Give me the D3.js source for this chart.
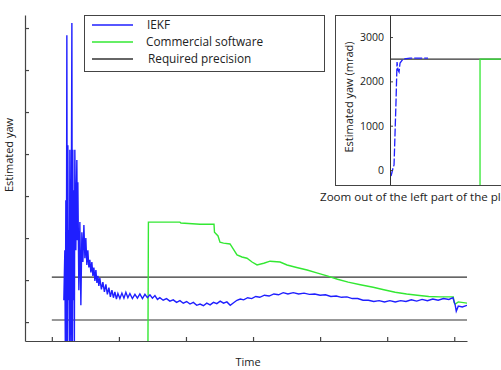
<!DOCTYPE html>
<html>
<head>
<meta charset="utf-8">
<script src="https://cdn.jsdelivr.net/npm/d3@7"></script>
<style>
  body { margin: 0; background: #fff; }
  text { font-family: "Open Sans", sans-serif; fill: #222; }
</style>
</head>
<body>
<div id="chart"></div>
<script>
// IEKF estimate (time, yaw in tick units)
var iekfTime = [0.179, 0.194, 0.201, 0.209, 0.216, 0.224, 0.231, 0.239, 0.246, 0.254, 0.261, 0.269, 0.276, 0.284, 0.299, 0.306, 0.313, 0.321, 0.328, 0.336, 0.343, 0.358, 0.373, 0.381, 0.388, 0.403, 0.418, 0.433, 0.448, 0.463, 0.478, 0.493, 0.507, 0.522, 0.537, 0.552, 0.567, 0.582, 0.597, 0.612, 0.627, 0.642, 0.657, 0.672, 0.687, 0.701, 0.716, 0.739, 0.761, 0.784, 0.806, 0.828, 0.851, 0.873, 0.896, 0.918, 0.940, 0.963, 0.985, 1.015, 1.045, 1.075, 1.104, 1.134, 1.164, 1.201, 1.239, 1.276, 1.313, 1.351, 1.388, 1.425, 1.463, 1.500, 1.537, 1.575,
    1.61, 1.66, 1.71, 1.76, 1.81, 1.86, 1.91, 1.96, 2.01, 2.06, 2.11, 2.16, 2.21, 2.26, 2.31, 2.36, 2.41, 2.46, 2.51, 2.56, 2.61, 2.66, 2.71, 2.76, 2.81, 2.86, 2.92, 2.98, 3.04, 3.10, 3.17, 3.24, 3.31, 3.38, 3.45, 3.52, 3.60, 3.68, 3.76, 3.84, 3.92, 4.00, 4.08, 4.16, 4.24, 4.32, 4.40, 4.48, 4.56, 4.64, 4.72, 4.80, 4.88, 4.96, 5.04, 5.12, 5.20, 5.28, 5.36, 5.44, 5.52, 5.60, 5.68, 5.76, 5.84, 5.92, 5.98, 6.015, 6.03, 6.06, 6.12, 6.19];
var iekfYaw = [0.52, 1.71, -0.6, 2.90, -0.6, 6.83, -0.6, 4.21, 0.52, 2.19, -0.6, 4.10, 1.00, -0.6, 7.12, -0.6, 4.10, 0.52, 3.14, -0.6, 4.10, 1.71, 3.86, 1.95, 3.33, 0.76, 2.38, 0.40, 2.14, 1.43, 2.31, 1.52, 2.00, 1.36, 1.71, 1.30, 1.48, 1.18, 1.43, 1.10, 1.30, 0.98, 1.24, 0.93, 1.10, 0.86, 1.05, 0.78, 0.95, 0.72, 0.90, 0.66, 0.82, 0.60, 0.76, 0.58, 0.72, 0.55, 0.68, 0.56, 0.69, 0.57, 0.71, 0.58, 0.68, 0.56, 0.66, 0.57, 0.67, 0.56, 0.66, 0.58, 0.65, 0.57, 0.63, 0.54,
    0.58, 0.52, 0.56, 0.50, 0.53, 0.47, 0.51, 0.45, 0.49, 0.43, 0.47, 0.40, 0.43, 0.39, 0.45, 0.41, 0.47, 0.44, 0.50, 0.45, 0.48, 0.40, 0.46, 0.52, 0.55, 0.53, 0.58, 0.56, 0.61, 0.59, 0.64, 0.62, 0.67, 0.65, 0.70, 0.67, 0.70, 0.67, 0.69, 0.66, 0.67, 0.64, 0.65, 0.61, 0.62, 0.59, 0.60, 0.56, 0.56, 0.52, 0.52, 0.49, 0.51, 0.48, 0.51, 0.48, 0.51, 0.49, 0.53, 0.50, 0.54, 0.51, 0.55, 0.52, 0.56, 0.54, 0.58, 0.40, 0.26, 0.38, 0.36, 0.40];

// commercial software
var comTime = [1.433, 1.440, 1.910, 1.925, 2.209, 2.418, 2.425, 2.478, 2.507, 2.560, 2.657, 2.761, 2.835, 2.910, 2.985, 3.060, 3.160, 3.254, 3.403, 3.507, 3.650, 3.806, 3.950, 4.104, 4.260, 4.418, 4.600, 4.791, 4.950, 5.119, 5.290, 5.448, 5.620, 5.791, 5.985, 6.000, 6.015, 6.060, 6.194];
var comYaw = [-0.6, 2.38, 2.38, 2.36, 2.33, 2.33, 2.14, 2.05, 1.90, 1.88, 1.86, 1.60, 1.55, 1.52, 1.43, 1.36, 1.40, 1.45, 1.43, 1.36, 1.30, 1.24, 1.17, 1.10, 1.02, 0.95, 0.89, 0.83, 0.77, 0.71, 0.67, 0.64, 0.61, 0.60, 0.60, 0.46, 0.43, 0.48, 0.45];

// required precision bounds
var precisionLevels = [1.07, 0.05];
var precisionSpan = [0, 6.194];

var xTicks = [0, 1, 2, 3, 4, 5, 6];
var yTicks = [0, 1, 2, 3, 4, 5, 6, 7];

// inset (zoom out, mrad)
var zoomTime = [0.158, 0.187, 0.201, 0.230, 0.244, 0.258, 0.273, 0.287, 0.330, 0.430, 0.689];
var zoomIekf = [-135, 45, 113, 1580, 2436, 2256, 2211, 2414, 2504, 2526, 2526];
var zoomComTime = [1.435, 1.435, 2.0];
var zoomComYaw = [-500, 2500, 2500];
var zoomPrecision = 2500;
var zoomTicks = [0, 1000, 2000, 3000];

var legendNames = ["IEKF", "Commercial software", "Required precision"];
var legendColors = ["#1f1fff", "#33e833", "#333"];

var width = 501, height = 370;

var svg = d3.select("#chart")
    .append("svg")
    .attr("width", width)
    .attr("height", height);

svg.append("rect").attr("width", width).attr("height", height).attr("fill", "#fff");

var x = d3.scaleLinear().domain([-0.4, 6.19]).range([25, 467]);
var y = d3.scaleLinear().domain([-0.45, 7.31]).range([341, 15]);

svg.append("defs").append("clipPath").attr("id", "mainClip")
    .append("rect").attr("x", 25).attr("y", 15).attr("width", 442).attr("height", 326);

var plot = svg.append("g").attr("clip-path", "url(#mainClip)");

var line = d3.line()
    .x(function (d) { return x(d[0]); })
    .y(function (d) { return y(d[1]); });

precisionLevels.forEach(function (lv) {
    plot.append("line")
        .attr("x1", x(precisionSpan[0])).attr("x2", x(precisionSpan[1]))
        .attr("y1", y(lv)).attr("y2", y(lv))
        .attr("stroke", "#333").attr("stroke-width", 1.2);
});

plot.append("path")
    .datum(d3.zip(comTime, comYaw))
    .attr("d", line)
    .attr("fill", "none")
    .attr("stroke", legendColors[1])
    .attr("stroke-width", 1.4);

plot.append("path")
    .datum(d3.zip(iekfTime, iekfYaw))
    .attr("d", line)
    .attr("fill", "none")
    .attr("stroke", legendColors[0])
    .attr("stroke-width", 1.4);

// axes, ticks inside, no labels
svg.append("g")
    .attr("transform", "translate(0,341)")
    .call(d3.axisBottom(x).tickValues(xTicks).tickSizeInner(-4).tickSizeOuter(0).tickFormat(""))
    .call(function (g) { g.selectAll("line,path").attr("stroke", "#444").attr("stroke-width", 1.2); });

svg.append("g")
    .attr("transform", "translate(25,0)")
    .call(d3.axisLeft(y).tickValues(yTicks).tickSizeInner(-4).tickSizeOuter(0).tickFormat(""))
    .call(function (g) { g.selectAll("line,path").attr("stroke", "#444").attr("stroke-width", 1.2); });

svg.append("text")
    .attr("transform", "translate(13,155) rotate(-90)")
    .attr("text-anchor", "middle")
    .style("font-size", "11px")
    .text("Estimated yaw");

svg.append("text")
    .attr("x", 248).attr("y", 366)
    .attr("text-anchor", "middle")
    .style("font-size", "11px")
    .text("Time");

// legend
var legend = svg.append("g");
legend.append("rect")
    .attr("x", 84.5).attr("y", 15.5).attr("width", 240).attr("height", 56)
    .attr("fill", "#fff").attr("stroke", "#444").attr("stroke-width", 1);
var textX = [147, 146, 148];
legendNames.forEach(function (name, i) {
    var ly = 25 + i * 17;
    legend.append("line")
        .attr("x1", 92).attr("x2", 133).attr("y1", ly).attr("y2", ly)
        .attr("stroke", legendColors[i]).attr("stroke-width", 1.3);
    legend.append("text")
        .attr("x", textX[i]).attr("y", ly + 4)
        .style("font-size", "11.8px")
        .text(name);
});

// inset
var inset = svg.append("g");
inset.append("rect")
    .attr("x", 335.5).attr("y", 15.5).attr("width", 200).attr("height", 170)
    .attr("fill", "#fff").attr("stroke", "#444");

var zx = d3.scaleLinear().domain([0.143, 1.736]).range([390, 501]);
var zy = d3.scaleLinear().domain([-338, 3497]).range([185, 15]);

svg.select("defs").append("clipPath").attr("id", "insetClip")
    .append("rect").attr("x", 390).attr("y", 15).attr("width", 150).attr("height", 170);

var zplot = inset.append("g").attr("clip-path", "url(#insetClip)");
var zline = d3.line()
    .x(function (d) { return zx(d[0]); })
    .y(function (d) { return zy(d[1]); });

zplot.append("line")
    .attr("x1", 390).attr("x2", 510)
    .attr("y1", zy(zoomPrecision)).attr("y2", zy(zoomPrecision))
    .attr("stroke", "#333").attr("stroke-width", 1.2);

zplot.append("path")
    .datum(d3.zip(zoomComTime, zoomComYaw))
    .attr("d", zline)
    .attr("fill", "none")
    .attr("stroke", legendColors[1])
    .attr("stroke-width", 1.3);

zplot.append("path")
    .datum(d3.zip(zoomTime, zoomIekf))
    .attr("d", zline)
    .attr("fill", "none")
    .attr("stroke", legendColors[0])
    .attr("stroke-width", 1.3)
    .attr("stroke-dasharray", "8,2");

inset.append("g")
    .attr("transform", "translate(390,0)")
    .call(d3.axisLeft(zy).tickValues(zoomTicks).tickSizeInner(-3).tickSizeOuter(0).tickPadding(6).tickFormat(d3.format("d")))
    .call(function (g) {
        g.select(".domain").remove();
        g.selectAll("line").attr("stroke", "#444");
        g.selectAll("text").style("font-size", "10.5px").style("font-family", "'Open Sans', sans-serif").attr("fill", "#222");
    });

inset.append("line")
    .attr("x1", 390.5).attr("x2", 390.5).attr("y1", 15).attr("y2", 185)
    .attr("stroke", "#333");

inset.append("text")
    .attr("transform", "translate(353,97) rotate(-90)")
    .attr("text-anchor", "middle")
    .style("font-size", "11px")
    .text("Estimated yaw (mrad)");

svg.append("text")
    .attr("x", 320).attr("y", 201)
    .style("font-size", "11.6px")
    .text("Zoom out of the left part of the plot");
</script>
</body>
</html>
